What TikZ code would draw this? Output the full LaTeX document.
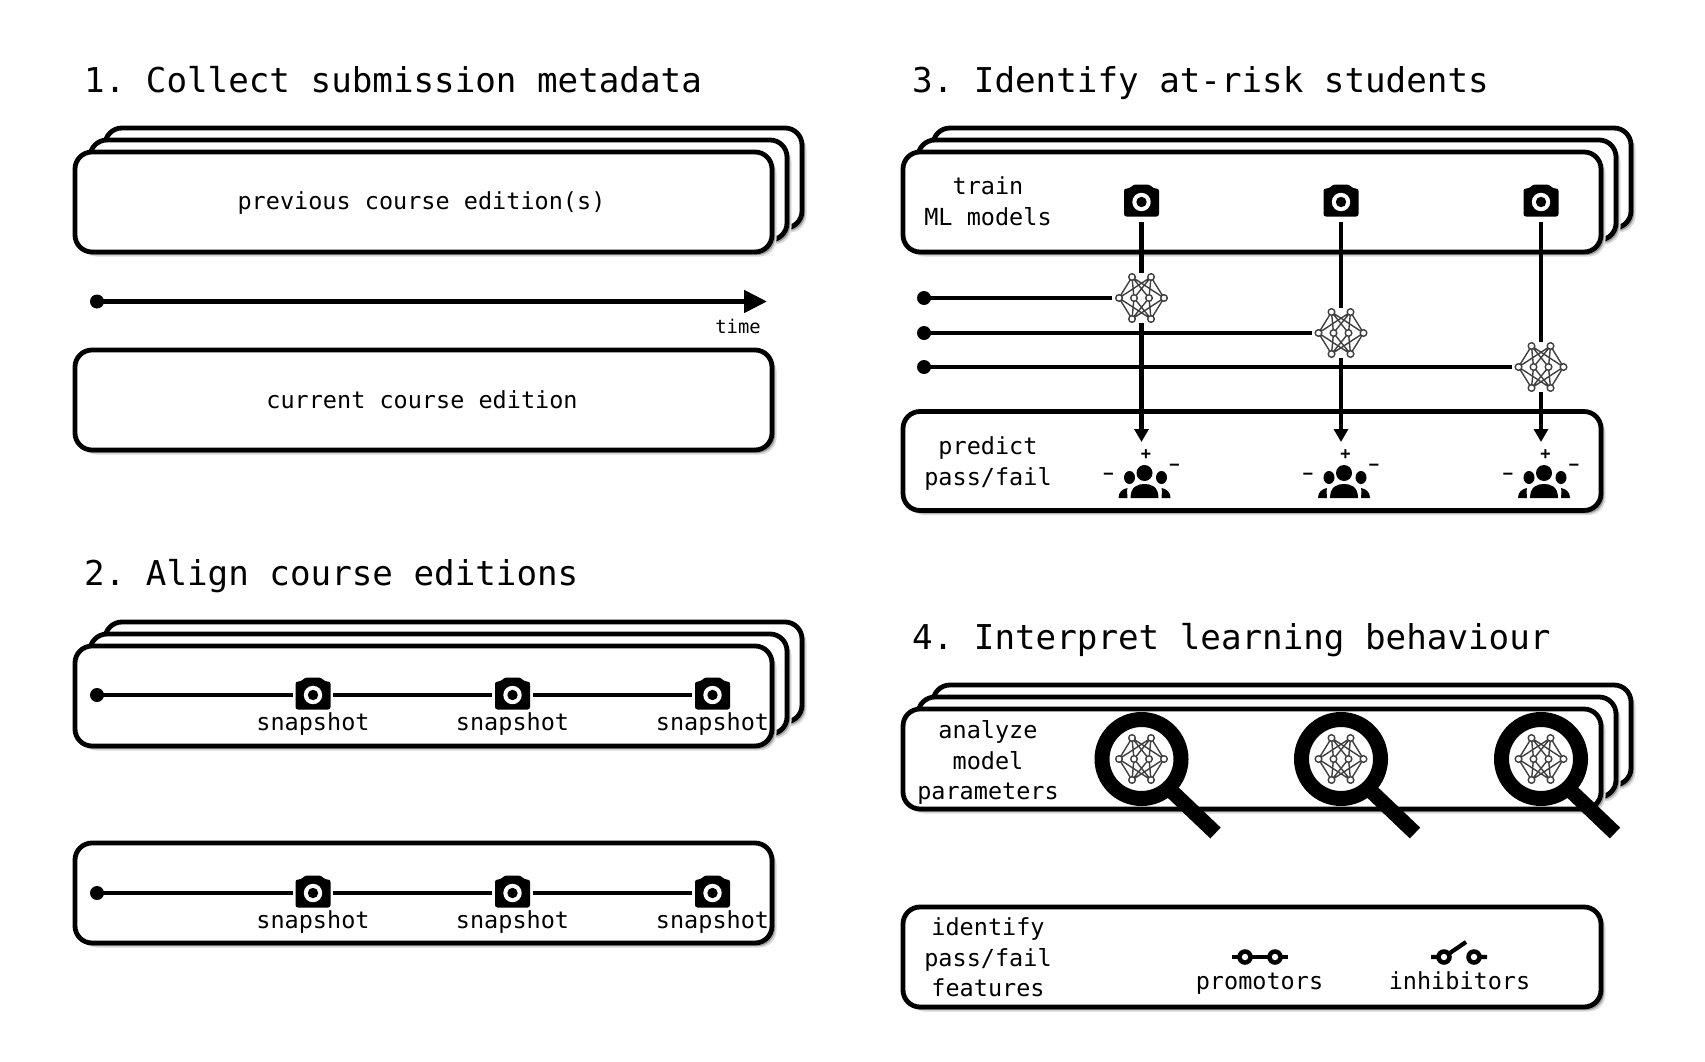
\documentclass[tikz,border=0pt]{standalone}
\usepackage{fontspec}
\setmainfont{DejaVu Sans Mono}
\usetikzlibrary{arrows.meta,shadows}
\frenchspacing
\newcommand{\st}{\rule[-6pt]{0pt}{28pt}}
\newcommand{\stackbox}[5]{% name, cx, cy, w, h
  \node[bx,minimum width=#4pt,minimum height=#5pt] (#1c) at (#2+30,#3-24) {};
  \node[bx,minimum width=#4pt,minimum height=#5pt] (#1b) at (#2+15,#3-12) {};
  \node[bx,minimum width=#4pt,minimum height=#5pt] (#1) at (#2,#3) {};
}
\tikzset{
  x=1pt,y=-1pt,
  bx/.style={draw=black,fill=white,line width=4.8pt,rectangle,rounded corners=17pt,inner sep=0pt,
    general shadow={shadow xshift=4.5pt,shadow yshift=-4.5pt,fill=black!14},
    general shadow={shadow xshift=3pt,shadow yshift=-3pt,fill=black!38}},
  title/.style={anchor=base west,inner sep=0pt,font=\fontsize{34.2}{40}\selectfont},
  lbl/.style={inner sep=0pt,align=center,font=\fontsize{23.5}{30.7}\selectfont},
  tiny/.style={inner sep=0pt,font=\fontsize{18.8}{22}\selectfont},
  sign/.style={inner sep=0pt,font=\fontsize{17}{20}\selectfont\bfseries},
  wire/.style={line width=4.8pt,draw=black},
  dot/.style={circle,fill=black,inner sep=0pt,minimum size=14pt},
  camspot/.style={rectangle,inner sep=0pt,minimum width=40pt,minimum height=40pt},
  netspot/.style={rectangle,inner sep=0pt,minimum width=58pt,minimum height=50pt},
  tipped/.style={wire,-{Triangle[length=13pt,width=14pt]}},
  camera/.pic={
    \fill[black,rounded corners=2.5pt] (-17.5,-13.5) -- (-12,-13.5) -- (-8,-17.5) -- (8,-17.5) -- (12,-13.5) -- (17.5,-13.5) -- (17.5,14.5) -- (-17.5,14.5) -- cycle;
    \fill[white] (0,0) circle (9.2pt);
    \fill[black] (0,0) circle (5.2pt);
  },
  net/.pic={
    \draw[black!75,line width=1.4pt]
      (-22.5,0) -- (-9.5,-21) (-22.5,0) -- (-9.5,21) (-22.5,0) -- (9.5,-21) (-22.5,0) -- (9.5,21)
      (22.5,0) -- (9.5,-21) (22.5,0) -- (9.5,21) (22.5,0) -- (-9.5,-21) (22.5,0) -- (-9.5,21)
      (-9.5,-21) -- (-7.5,0) (-9.5,-21) -- (7.5,0)
      (9.5,-21) -- (-7.5,0) (9.5,-21) -- (7.5,0)
      (-9.5,21) -- (-7.5,0) (-9.5,21) -- (7.5,0)
      (9.5,21) -- (-7.5,0) (9.5,21) -- (7.5,0);
    \foreach \a/\b in {-22.5/0,22.5/0,-7.5/0,7.5/0,-9.5/-21,9.5/-21,-9.5/21,9.5/21}
      \draw[black!75,fill=white,line width=1.4pt] (\a,\b) circle (3.3pt);
  },
  people/.pic={
    \fill[black] (2,-9) circle (8pt);
    \fill[black] (-13,-4.5) ellipse (5.5pt and 6.5pt);
    \fill[black] (19,-4.5) ellipse (5.5pt and 6.5pt);
    \fill[black] (-12,16) .. controls (-12,4) and (-4,2) .. (2,2) .. controls (8,2) and (16,4) .. (16,16) -- cycle;
    \fill[black] (-24,16) .. controls (-24,10) and (-20,7) .. (-15,6) .. controls (-16,9) and (-15,13) .. (-15,16) -- cycle;
    \fill[black] (28,16) .. controls (28,10) and (24,7) .. (19,6) .. controls (20,9) and (19,13) .. (19,16) -- cycle;
  },
  lens/.pic={
    \draw[black,line width=15pt] (31,33) -- (74,74);
    \draw[black,fill=white,line width=15pt] (0,0) circle (39.5pt);
    \pic at (0,0) {net};
  },
  switchon/.pic={
    \draw[black,line width=4.2pt] (-28,0) -- (28,0);
    \foreach \a in {-15,15} {\fill[black] (\a,0) circle (7.8pt); \fill[white] (\a,0) circle (3.2pt);}
  },
  switchoff/.pic={
    \draw[black,line width=4.2pt] (-28,0) -- (-15,0) (15,0) -- (28,0) (-15,0) -- (7,-15);
    \foreach \a in {-15,15} {\fill[black] (\a,0) circle (7.8pt); \fill[white] (\a,0) circle (3.2pt);}
  }
}
\begin{document}
\begin{tikzpicture}
\useasboundingbox[fill=white] (0,0) rectangle (1705,1062);

% titles
\node[title] (t1) at (84,93) {1. Collect submission metadata};
\node[title] (t2) at (84,585) {2. Align course editions};
\node[title] (t3) at (912,93) {3. Identify at-risk students};
\node[title] (t4) at (912,649) {4. Interpret learning behaviour};

% panel 1
\stackbox{prev}{423.5}{202}{697}{100}
\node[lbl] (prevt) at (421.5,201) {\st previous course edition(s)};
\node[bx,minimum width=697pt,minimum height=100pt] (curr) at (423.5,400) {};
\node[lbl] (currt) at (422,400) {\st current course edition};
\node[dot] (d0) at (97,301.5) {};
\coordinate (tip0) at (767,301.5);
\draw[wire,-{Triangle[length=23pt,width=22pt]}] (d0.center) -- (tip0);
\node[tiny] (timet) at (738,326) {time};

% panel 2
\stackbox{sa}{423.5}{696}{697}{100}
\node[bx,minimum width=697pt,minimum height=100pt] (sb) at (423.5,893) {};
\foreach \r/\y in {a/695,b/893} {
  \node[dot] (d\r) at (97,\y) {};
  \foreach \i/\x in {1/313,2/512.5,3/712.5} {
    \node[camspot] (c\r\i) at (\x,\y) {};
    \pic at (\x,\y) {camera};
    \node[lbl] (l\r\i) at (\x,\y+27) {\st snapshot};
  }
  \draw[wire] (d\r.center) -- (c\r1.west);
  \draw[wire] (c\r1.east) -- (c\r2.west);
  \draw[wire] (c\r2.east) -- (c\r3.west);
}

% panel 3
\stackbox{train}{1252}{202}{698}{100}
\node[lbl] (traint) at (988,202) {\st train\\\st ML models};
\node[bx,minimum width=698pt,minimum height=99pt] (pred) at (1252,461) {};
\node[lbl] (predt) at (988,462) {\st predict\\\st pass/fail};
\foreach \i/\x/\y in {1/1141.5/298,2/1341/333,3/1541/367} {
  \node[camspot] (cam\i) at (\x,202) {};
  \pic at (\x,202) {camera};
  \node[netspot] (net\i) at (\x,\y) {};
  \node[dot] (ld\i) at (924,\y) {};
  \coordinate (pt\i) at (\x,442);
}
\draw[wire] (ld1.center) -- (net1.west);
\draw[wire] (cam1.south) -- (net1.north);
\draw[tipped] (net1.south) -- (pt1);
\draw[wire] (cam2.south) -- (net2.north);
\draw[tipped] (net2.south) -- (pt2);
\draw[wire] (cam3.south) -- (net3.north);
\draw[tipped] (net3.south) -- (pt3);
\draw[wire] (ld2.center) -- (net2.west);
\draw[wire] (ld3.center) -- (net3.west);
\foreach \i/\x/\y in {1/1141.5/298,2/1341/333,3/1541/367} {
  \pic at (\x,\y) {net};
  \pic at (\x+1,482) {people};
  \node[sign] (plus\i) at (\x+4.5,455) {+};
  \node[sign] (mla\i) at (\x-33,476) {−};
  \node[sign] (mlb\i) at (\x+33,467) {−};
}

% panel 4
\stackbox{ana}{1252}{759}{698}{100}
\node[lbl] (anat) at (988,761) {\st analyze\\\st model\\\st parameters};
\foreach \i/\x in {1/1141.5,2/1341,3/1541} {
  \pic at (\x,759) {lens};
}
\node[bx,minimum width=698pt,minimum height=100pt] (iden) at (1252,957) {};
\node[lbl] (ident) at (988,958) {\st identify\\\st pass/fail\\\st features};
\pic at (1260,957) {switchon};
\pic at (1459,957) {switchoff};
\node[lbl] (promt) at (1259.5,981) {\st promotors};
\node[lbl] (inht) at (1459.5,981) {\st inhibitors};
\end{tikzpicture}
\end{document}
